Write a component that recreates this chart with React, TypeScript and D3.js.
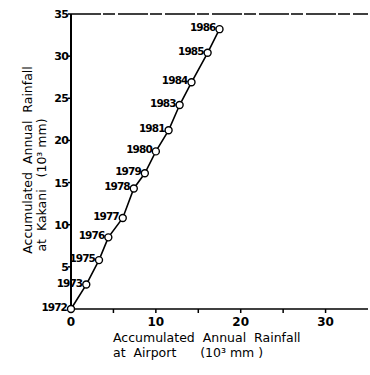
import React from "react";
import * as d3 from "d3";

const years = ["1972", "1973", "1975", "1976", "1977", "1978", "1979", "1980", "1981", "1983", "1984", "1985", "1986"];
const airport = [0, 1.8, 3.3, 4.4, 6.1, 7.4, 8.7, 10.0, 11.5, 12.8, 14.2, 16.1, 17.5];
const kakani = [0, 2.9, 5.8, 8.5, 10.8, 14.3, 16.1, 18.7, 21.2, 24.2, 26.9, 30.4, 33.2];
const xTicks = [0, 10, 20, 30];
const xMinor = [5, 10, 15, 20, 25, 30];
const yTicks = [5, 10, 15, 20, 25, 30, 35];

export default function App() {
  const W = 370, H = 375;
  const x = d3.scaleLinear().domain([0, 35]).range([71, 368]);
  const y = d3.scaleLinear().domain([0, 35]).range([309, 14]);
  const pts = airport.map((a, i) => [x(a), y(kakani[i])] as [number, number]);
  const line = d3.line()(pts) || "";
  const font = "'DejaVu Sans', sans-serif";
  return (
    <svg width={W} height={H} style={{ position: "absolute", left: 0, top: 0, background: "#fff" }} fontFamily={font}>
      <rect width={W} height={H} fill="#fff" />
      {/* axes */}
      <line x1={x(0)} y1={y(0)} x2={x(0)} y2={y(35)} stroke="#000" strokeWidth={2} />
      <line x1={x(0)} y1={y(0)} x2={x(35)} y2={y(0)} stroke="#000" strokeWidth={1.5} />
      <line x1={x(0)} y1={y(35)} x2={x(35)} y2={y(35)} stroke="#000" strokeWidth={1.3} strokeDasharray="30 2 12 3" />
      {xMinor.map((t) => (
        <line key={"xt" + t} x1={x(t)} x2={x(t)} y1={y(0)} y2={y(0) + 4} stroke="#000" strokeWidth={1.5} />
      ))}
      {yTicks.map((t) => (
        <line key={"yt" + t} x1={x(0) - 3} x2={x(0)} y1={y(t)} y2={y(t)} stroke="#000" strokeWidth={1.5} />
      ))}
      {xTicks.map((t) => (
        <text key={"xl" + t} x={x(t)} y={y(0) + 17} fontSize={12} fontWeight="bold" textAnchor="middle">{t}</text>
      ))}
      {yTicks.map((t) => (
        <text key={"yl" + t} x={x(0) - 3} y={y(t) + 4} fontSize={11} fontWeight="bold" textAnchor="end" letterSpacing={-0.8}>{t}</text>
      ))}
      {/* series */}
      <path d={line} fill="none" stroke="#000" strokeWidth={1.6} />
      {pts.map((p, i) => (
        <circle key={"c" + i} cx={p[0]} cy={p[1]} r={3.5} fill="#fff" stroke="#000" strokeWidth={1.4} />
      ))}
      {pts.map((p, i) => (
        <text key={"t" + i} x={p[0] - 4} y={p[1] + 2} fontSize={10.5} fontWeight={600} textAnchor="end" letterSpacing={-0.9}>{years[i]}</text>
      ))}
      {/* axis titles */}
      <g transform={`translate(32,160) rotate(-90)`}>
        <text x={0} y={0} fontSize={12.5} textAnchor="middle" xmlSpace="preserve">Accumulated  Annual  Rainfall</text>
      </g>
      <g transform={`translate(46,185) rotate(-90)`}>
        <text x={0} y={0} fontSize={12.5} textAnchor="middle" xmlSpace="preserve">at  Kakani   (10³ mm)</text>
      </g>
      <text x={113} y={342} fontSize={12.5} xmlSpace="preserve">Accumulated  Annual  Rainfall</text>
      <text x={113} y={357} fontSize={12.5} xmlSpace="preserve">at  Airport      (10³ mm )</text>
    </svg>
  );
}
